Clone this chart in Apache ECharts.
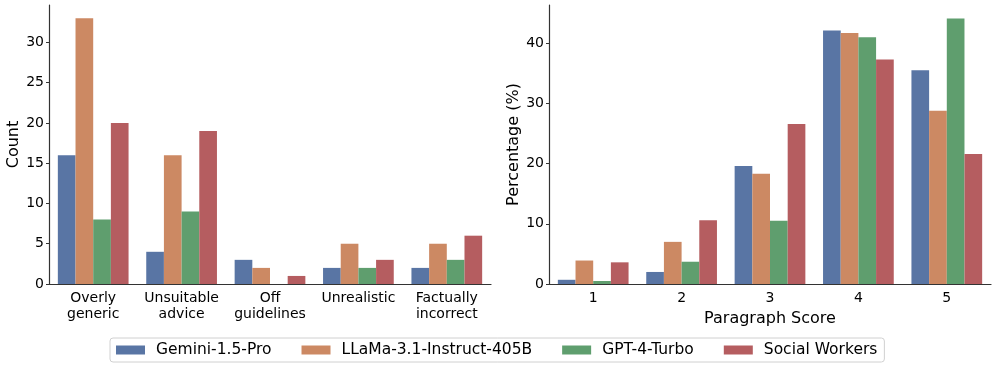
<!DOCTYPE html>
<html lang="en">
<head>
    <meta charset="UTF-8">
    <title>Feedback Categories and Paragraph Scores</title>
    <script src="https://cdn.jsdelivr.net/npm/echarts@6/dist/echarts.min.js"></script>
    <style>
        body {
            margin: 0;
            background-color: white;
        }
        #chart {
            width: 997px;
            height: 371px;
        }
    </style>
</head>
<body>
    <div id="chart"></div>

    <script>
        // categories
        const issueCategories = ['Overly\ngeneric', 'Unsuitable\nadvice', 'Off\nguidelines', 'Unrealistic', 'Factually\nincorrect'];
        const scoreCategories = ['1', '2', '3', '4', '5'];
        const modelNames = ['Gemini-1.5-Pro', 'LLaMa-3.1-Instruct-405B', 'GPT-4-Turbo', 'Social Workers'];

        // left panel: counts per issue
        const geminiCounts = [16, 4, 3, 2, 2];
        const llamaCounts = [33, 16, 2, 5, 5];
        const gptCounts = [8, 9, 0, 2, 3];
        const socialCounts = [20, 19, 1, 3, 6];

        // right panel: percentage per paragraph score
        const geminiPct = [0.7, 2.0, 19.6, 42.1, 35.5];
        const llamaPct = [3.9, 7.0, 18.3, 41.7, 28.8];
        const gptPct = [0.5, 3.7, 10.5, 41.0, 44.1];
        const socialPct = [3.6, 10.6, 26.6, 37.3, 21.6];

        const colors = ['#5975a4', '#cc8963', '#5f9e6e', '#b55d60'];
        const font = 'DejaVu Sans';

        const chart = echarts.init(document.getElementById('chart'));

        function xAxisCfg(gridIndex, data, name) {
            return {
                type: 'category',
                gridIndex: gridIndex,
                data: data,
                name: name,
                nameLocation: 'middle',
                nameGap: 21,
                nameTextStyle: { fontFamily: font, fontSize: 16, color: '#000' },
                axisLine: { lineStyle: { color: '#333', width: 1.2 } },
                axisTick: { alignWithLabel: true, length: 4, lineStyle: { color: '#333' } },
                axisLabel: { interval: 0, fontFamily: font, fontSize: 14, color: '#000', margin: 6, lineHeight: 16 }
            };
        }

        function yAxisCfg(gridIndex, max, name) {
            return {
                type: 'value',
                gridIndex: gridIndex,
                min: 0,
                max: max,
                interval: gridIndex === 0 ? 5 : 10,
                name: name,
                nameLocation: 'middle',
                nameGap: 27,
                nameTextStyle: { fontFamily: font, fontSize: 16, color: '#000' },
                axisLine: { show: true, lineStyle: { color: '#333', width: 1.2 } },
                axisTick: { show: true, length: 3, lineStyle: { color: '#333' } },
                axisLabel: { fontFamily: font, fontSize: 14, color: '#000', margin: 5, showMaxLabel: false },
                splitLine: { show: false }
            };
        }

        const leftData = [geminiCounts, llamaCounts, gptCounts, socialCounts];
        const rightData = [geminiPct, llamaPct, gptPct, socialPct];
        const series = [];
        modelNames.forEach((name, i) => {
            series.push({
                name: name,
                type: 'bar',
                xAxisIndex: 0,
                yAxisIndex: 0,
                data: leftData[i],
                itemStyle: { color: colors[i] },
                barGap: '0%',
                barCategoryGap: '20%'
            });
        });
        modelNames.forEach((name, i) => {
            series.push({
                name: name,
                type: 'bar',
                xAxisIndex: 1,
                yAxisIndex: 1,
                data: rightData[i],
                itemStyle: { color: colors[i] },
                barGap: '0%',
                barCategoryGap: '20%'
            });
        });

        const option = {
            animation: false,
            color: colors,
            legend: {
                data: modelNames,
                left: 110,
                top: 338,
                padding: [4, 7, 4, 6],
                itemWidth: 29,
                itemHeight: 9,
                itemGap: 30,
                borderColor: '#d0d0d0',
                borderWidth: 1,
                borderRadius: 3,
                icon: 'rect',
                textStyle: { fontFamily: font, fontSize: 15.5, color: '#000', padding: [0, 0, 0, 6] }
            },
            grid: [
                { left: 49, right: 506, top: 5, bottom: 87 },
                { left: 549, right: 6, top: 5, bottom: 87 }
            ],
            xAxis: [
                xAxisCfg(0, issueCategories, ''),
                xAxisCfg(1, scoreCategories, 'Paragraph Score')
            ],
            yAxis: [
                yAxisCfg(0, 34.65, 'Count'),
                yAxisCfg(1, 46.35, 'Percentage (%)')
            ],
            series: series
        };
        chart.setOption(option);
    </script>
</body>
</html>
